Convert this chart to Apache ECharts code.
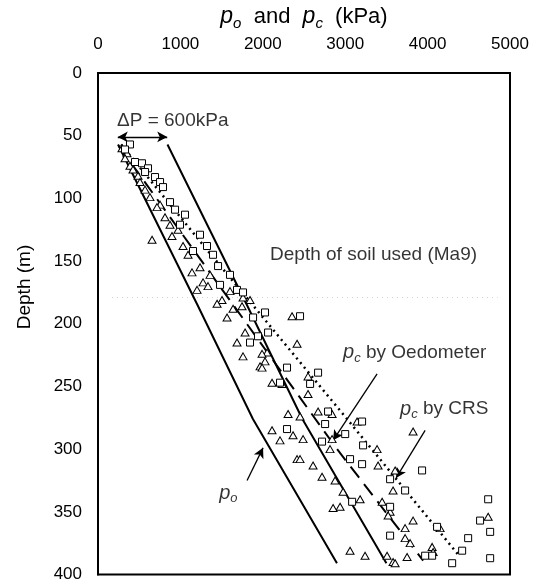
<!DOCTYPE html>
<html>
<head>
<meta charset="utf-8">
<script src="https://cdn.jsdelivr.net/npm/echarts@6/dist/echarts.min.js"></script>
<style>
  html, body { margin: 0; padding: 0; background: #fff; }
  #chart { width: 549px; height: 583px; }
</style>
</head>
<body>
<div id="chart"></div>
<script>
// Axis ticks
const xTicks = [0, 1000, 2000, 3000, 4000, 5000];   // p (kPa)
const yTicks = [0, 50, 100, 150, 200, 250, 300, 350, 400]; // depth (m)

// Measured points: [pressure kPa, depth m]
const triangles = [
  [291,60],[352,64],[328,68],[388,74],[425,77],[486,82],[510,87],[571,93],[631,99],
  [753,105],[716,107],[813,115],[874,121],[971,125],[898,130],[656,133],[1032,138],
  [1093,145],[1238,155],[1141,159],[1360,161],[1275,167],[1335,170],[1202,173],
  [1602,174],[1760,179],[1505,181],[1845,181],[1445,184],[1748,186],[1639,188],
  [1566,195],[2355,194],[1785,207],[1687,215],[2416,216],[2052,223],[1991,224],
  [1760,226],[2027,230],[1967,234],[1991,235],[2549,242],[2112,247],[2234,248],
  [2549,256],[2671,270],[2816,270],[2307,272],[2841,272],[2452,274],[3144,278],
  [2112,285],[3824,286],[2367,289],[2489,292],[2841,292],[2209,293],[2816,300],
  [3387,300],[2416,308],[2452,308],[2610,313],[3399,313],[3606,317],[2719,322],
  [2877,325],[3581,333],[2974,334],[3181,340],[3448,342],[2938,346],[2853,347],
  [3545,350],[3521,353],[4735,354],[3824,357],[3727,363],[4152,363],[3727,371],
  [3788,375],[4055,378],[3059,381],[4067,382],[3241,385],[3508,385],[3751,386],
  [3581,390],[3606,391]
];
const squares = [
  [388,57],[328,61],[449,71],[534,72],[607,76],[571,79],[692,83],[753,87],[789,91],
  [874,103],[935,109],[1056,113],[995,121],[1238,129],[1323,138],[1153,142],
  [1396,145],[1457,154],[1602,161],[1481,169],[1687,173],[1760,175],[2027,191],
  [2452,194],[1882,195],[2064,207],[1942,210],[1845,215],[2294,235],[2671,239],
  [2209,247],[2574,248],[2792,270],[3205,278],[2756,280],[2294,284],[3000,288],
  [2719,294],[3217,297],[3059,308],[3205,312],[3933,317],[3545,324],[3727,333],
  [4735,340],[3084,342],[3545,346],[4637,357],[4115,362],[4759,366],[3545,369],
  [4492,371],[4419,381],[4055,385],[3970,385],[4759,387],[4298,391]
];

// Trend lines: [pressure kPa, depth m]
const poLine      = [[243,57],[1200,184],[1880,276],[2900,391]];
const poPlus600   = [[843,57],[1800,184],[2480,276],[3500,391]];
const pcOedometer = [[250,58],[2901,300],[3946,389]];
const pcCRS       = [[280,57],[1323,141],[3023,276],[4395,386]];
const soilDepth   = 179;  // depth of soil used (Ma9)

const FONT = '"Liberation Sans", Arial, Helvetica, sans-serif';

function richSet(size, pSize, subSize, lh) {
  return {
    n: { fontFamily: FONT, fontSize: size, color: '#000', lineHeight: lh },
    i: { fontFamily: FONT, fontSize: pSize, fontStyle: 'italic', color: '#000', lineHeight: lh },
    s: { fontFamily: FONT, fontSize: subSize, fontStyle: 'italic', color: '#000',
         lineHeight: subSize, verticalAlign: 'bottom' }
  };
}
const titleRich = richSet(22, 23, 15, 28);
const noteRich  = richSet(19, 20, 13, 24);

// Text annotations anchored in data space
const notes = [
  { at: [231, 38],   text: '{n|ΔP = 600kPa}' },
  { at: [2088, 145], text: '{n|Depth of soil used (Ma9)}' },
  { at: [2974, 223], text: '{i|p}{s|c}{n| by Oedometer}' },
  { at: [3666, 268], text: '{i|p}{s|c}{n| by CRS}' },
  { at: [1470, 335], text: '{i|p}{s|o}' }
];

const arrowStyle = { color: '#000', width: 1.3, type: 'solid' };

const chart = echarts.init(document.getElementById('chart'), null, { renderer: 'canvas' });

chart.setOption({
  animation: false,
  backgroundColor: '#fff',
  grid: {
    left: 98, top: 73, width: 412, height: 503,
    show: true, borderColor: '#000', borderWidth: 2, backgroundColor: 'transparent'
  },
  xAxis: {
    type: 'value', position: 'top',
    min: xTicks[0], max: xTicks[xTicks.length - 1], interval: 1000,
    name: '{i|p}{s|o}{n|  and  }{i|p}{s|c}{n|  (kPa)}',
    nameLocation: 'middle', nameGap: 42,
    nameTextStyle: { rich: titleRich },
    axisLine: { show: true, lineStyle: { color: '#000', width: 2 } },
    axisTick: { show: false },
    splitLine: { show: false },
    axisLabel: { color: '#000', fontFamily: FONT, fontSize: 17, margin: 20,
                 formatter: v => String(v) }
  },
  yAxis: {
    type: 'value', inverse: true,
    min: yTicks[0], max: yTicks[yTicks.length - 1], interval: 50,
    axisLine: { show: true, lineStyle: { color: '#000', width: 2 } },
    axisTick: { show: false },
    splitLine: { show: false },
    axisLabel: { color: '#000', fontFamily: FONT, fontSize: 17, margin: 16,
                 formatter: v => String(v) }
  },
  graphic: [{
    type: 'text', x: 25, y: 287, rotation: Math.PI / 2,
    style: {
      text: 'Depth (m)', fontFamily: FONT, fontSize: 19, fill: '#000',
      align: 'center', verticalAlign: 'middle'
    }
  }],
  series: [
    {
      name: 'p_o', type: 'line', data: poLine, showSymbol: false, z: 2,
      lineStyle: { color: '#000', width: 2 },
      markLine: {
        silent: true, animation: false, z: 2,
        label: { show: false },
        lineStyle: arrowStyle,
        symbolSize: [8, 10],
        data: [
          [{ coord: [240, 51], symbol: 'arrow' }, { coord: [840, 51], symbol: 'arrow' }],
          [{ coord: [3387, 240], symbol: 'none' }, { coord: [2853, 293], symbol: 'arrow' }],
          [{ coord: [3970, 285], symbol: 'none' }, { coord: [3618, 323], symbol: 'arrow' }],
          [{ coord: [1809, 325], symbol: 'none' }, { coord: [2003, 299], symbol: 'arrow' }],
          [{ coord: [170, soilDepth], symbol: 'none', lineStyle: { color: '#d2d2d2', width: 1, type: [1, 4] } },
           { coord: [4850, soilDepth], symbol: 'none' }]
        ]
      }
    },
    {
      name: 'p_o + 600', type: 'line', data: poPlus600, showSymbol: false, z: 2,
      lineStyle: { color: '#000', width: 2 }
    },
    {
      name: 'p_c by Oedometer', type: 'line', data: pcOedometer, showSymbol: false, z: 2,
      lineStyle: { color: '#000', width: 2, type: [14, 8] }
    },
    {
      name: 'p_c by CRS', type: 'line', data: pcCRS, showSymbol: false, z: 2,
      lineStyle: { color: '#000', width: 2.5, type: [2, 4] }
    },
    {
      name: 'triangles', type: 'scatter', data: triangles, z: 3,
      symbol: 'triangle', symbolSize: [8, 7],
      itemStyle: { color: '#fff', borderColor: '#000', borderWidth: 1, opacity: 1 }
    },
    {
      name: 'squares', type: 'scatter', data: squares, z: 3,
      symbol: 'rect', symbolSize: 7,
      itemStyle: { color: '#fff', borderColor: '#000', borderWidth: 1, opacity: 1 }
    },
    {
      name: 'notes', type: 'scatter', z: 4, silent: true,
      symbolSize: 0,
      data: notes.map(n => ({ value: n.at, label: { formatter: n.text } })),
      label: {
        show: true, position: 'inside', align: 'left', verticalAlign: 'middle',
        rich: noteRich
      }
    }
  ]
});
</script>
</body>
</html>
